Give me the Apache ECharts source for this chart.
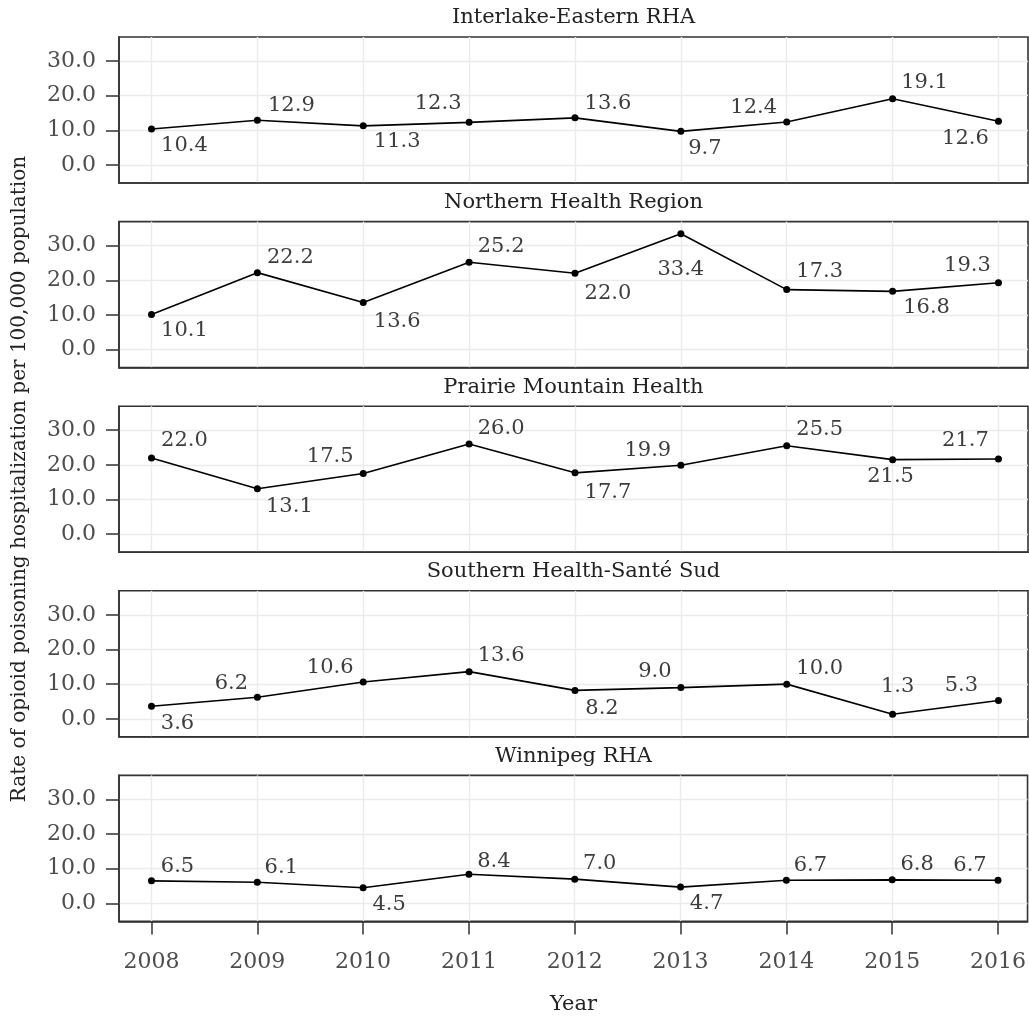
<!DOCTYPE html>
<html>
<head>
<meta charset="utf-8">
<script src="https://cdn.jsdelivr.net/npm/echarts@6/dist/echarts.min.js"></script>
<style>html,body{margin:0;padding:0;background:#fff;}#chart{width:1029px;height:1019px;}</style>
</head>
<body>
<div id="chart"></div>
<script>
// ---- data ----
const years = [2008, 2009, 2010, 2011, 2012, 2013, 2014, 2015, 2016];
const regionNames = ['Interlake-Eastern RHA', 'Northern Health Region', 'Prairie Mountain Health', 'Southern Health-Santé Sud', 'Winnipeg RHA'];
const interlake = [10.4, 12.9, 11.3, 12.3, 13.6, 9.7, 12.4, 19.1, 12.6];
const northern  = [10.1, 22.2, 13.6, 25.2, 22.0, 33.4, 17.3, 16.8, 19.3];
const prairie   = [22.0, 13.1, 17.5, 26.0, 17.7, 19.9, 25.5, 21.5, 21.7];
const southern  = [3.6, 6.2, 10.6, 13.6, 8.2, 9.0, 10.0, 1.3, 5.3];
const winnipeg  = [6.5, 6.1, 4.5, 8.4, 7.0, 4.7, 6.7, 6.8, 6.7];
const yTicks = [0, 10, 20, 30];
const yTitle = 'Rate of opioid poisoning hospitalization per 100,000 population';
const xTitle = 'Year';

// ---- label nudges (layout only, px offsets of label centre from point) ----
const nudgeInterlake = [[33,17],[34,-15],[34,16],[-31,-19],[33,-14],[24,17],[-33,-14],[32,-16],[-33,17]];
const nudgeNorthern  = [[33,16],[33,-15],[34,19],[32,-16],[33,20],[0,36],[33,-18],[34,16],[-31,-17]];
const nudgePrairie   = [[33,-17],[32,18],[-33,-17],[32,-16],[33,20],[-33,-15],[33,-16],[-2,17],[-33,-18]];
const nudgeSouthern  = [[26,17],[-26,-14],[-33,-15],[32,-16],[27,18],[-26,-16],[33,-16],[5,-28],[-37,-15]];
const nudgeWinnipeg  = [[26,-14],[24,-15],[26,17],[25,-13],[25,-16],[26,16],[24,-15],[25,-15],[-28,-15]];

const seriesValues = [interlake, northern, prairie, southern, winnipeg];
const seriesNudges = [nudgeInterlake, nudgeNorthern, nudgePrairie, nudgeSouthern, nudgeWinnipeg];

// ---- layout ----
const FONT = 'DejaVu Serif';
const gridLeft = 119, gridWidth = 909, gridTop0 = 37, gridStep = 184.6, gridHeight = 146;
const xMin = 2007.693, xMax = 2016.279;
const yMin = -5.19, yMax = 36.92;

const grids = [], xAxes = [], yAxes = [], series = [], graphics = [];
for (let i = 0; i < 5; i++) {
  const top = gridTop0 + i * gridStep;
  const last = i === 4;
  grids.push({left: gridLeft, width: gridWidth, top: top, height: gridHeight, show: true,
    borderColor: '#333', borderWidth: 1.6, backgroundColor: 'transparent'});
  xAxes.push({type: 'value', gridIndex: i, min: xMin, max: xMax, position: 'bottom',
    axisLine: {show: true, onZero: false, lineStyle: {color: '#333', width: 1.6}},
    axisTick: {show: last, customValues: years, length: 13, lineStyle: {color: '#333', width: 1.5}},
    axisLabel: {show: last, customValues: years, formatter: v => String(v), margin: 30,
      fontFamily: FONT, fontSize: 22, color: '#4d4d4d'},
    splitLine: {show: true, lineStyle: {color: '#ebebeb', width: 1.4}}
  });
  yAxes.push({type: 'value', gridIndex: i, min: yMin, max: yMax, position: 'left',
    axisLine: {show: true, onZero: false, lineStyle: {color: '#333', width: 1.6}},
    axisTick: {show: true, customValues: yTicks, length: 13, lineStyle: {color: '#333', width: 1.5}},
    axisLabel: {show: true, customValues: yTicks, formatter: v => v.toFixed(1), margin: 23,
      fontFamily: FONT, fontSize: 22, color: '#4d4d4d'},
    splitLine: {show: true, lineStyle: {color: '#ebebeb', width: 1.4}}
  });
  const vals = seriesValues[i], nud = seriesNudges[i];
  series.push({type: 'line', xAxisIndex: i, yAxisIndex: i, name: regionNames[i],
    data: years.map((y, k) => [y, vals[k]]),
    symbol: 'circle', symbolSize: 7, itemStyle: {color: '#000'},
    lineStyle: {color: '#000', width: 1.6},
    label: {show: true, position: 'inside', align: 'center', verticalAlign: 'middle',
      formatter: p => p.value[1].toFixed(1), fontFamily: FONT, fontSize: 21, color: '#3d3d3d'},
    labelLayout: (p) => ({dx: nud[p.dataIndex][0], dy: nud[p.dataIndex][1], hideOverlap: false}),
    emphasis: {disabled: true}, z: 5
  });
  graphics.push({type: 'text', x: gridLeft + gridWidth / 2, y: top - 19,
    style: {text: regionNames[i], font: '21px "' + FONT + '"', fill: '#222', align: 'center', verticalAlign: 'middle'}});
}
graphics.push({type: 'text', x: 20, y: 479, rotation: Math.PI / 2,
  style: {text: yTitle, font: '20px "' + FONT + '"', fill: '#222', align: 'center', verticalAlign: 'middle'}});
graphics.push({type: 'text', x: gridLeft + gridWidth / 2, y: 1005,
  style: {text: xTitle, font: '21px "' + FONT + '"', fill: '#222', align: 'center', verticalAlign: 'middle'}});

const chart = echarts.init(document.getElementById('chart'), null, {renderer: 'canvas'});
chart.setOption({
  animation: false,
  backgroundColor: '#fff',
  grid: grids, xAxis: xAxes, yAxis: yAxes, series: series,
  graphic: graphics
});
</script>
</body>
</html>
